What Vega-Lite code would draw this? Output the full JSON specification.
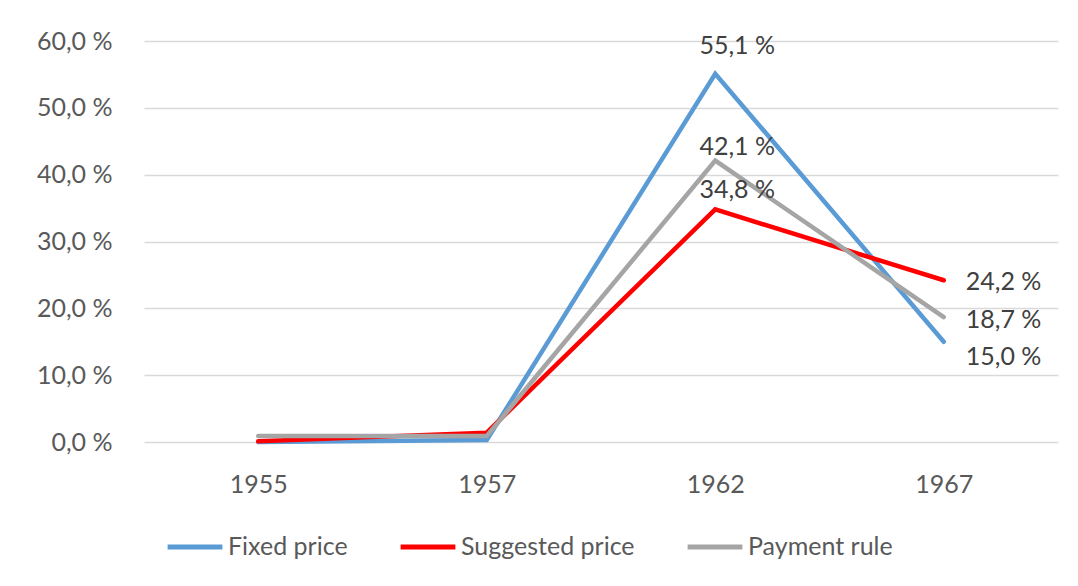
{
  "$schema": "https://vega.github.io/schema/vega-lite/v6.json",
  "autosize": "none",
  "width": 914,
  "height": 401,
  "padding": {"left": 144, "top": 41, "right": 20, "bottom": 144},
  "background": "white",
  "config": {
    "font": "Lato",
    "view": {"stroke": null},
    "locale": {"number": {"decimal": ",", "thousands": " ", "grouping": [3], "currency": ["", ""], "percent": " %"}}
  },
  "data": {
    "values": [
      {"year": "1955", "series": "Fixed price", "value": 0.0},
      {"year": "1957", "series": "Fixed price", "value": 0.003},
      {"year": "1962", "series": "Fixed price", "value": 0.551},
      {"year": "1967", "series": "Fixed price", "value": 0.150},
      {"year": "1955", "series": "Suggested price", "value": 0.001},
      {"year": "1957", "series": "Suggested price", "value": 0.014},
      {"year": "1962", "series": "Suggested price", "value": 0.348},
      {"year": "1967", "series": "Suggested price", "value": 0.242},
      {"year": "1955", "series": "Payment rule", "value": 0.009},
      {"year": "1957", "series": "Payment rule", "value": 0.009},
      {"year": "1962", "series": "Payment rule", "value": 0.421},
      {"year": "1967", "series": "Payment rule", "value": 0.187}
    ]
  },
  "encoding": {
    "x": {
      "field": "year", "type": "ordinal", "title": null,
      "scale": {"type": "point", "padding": 0.5},
      "axis": {"labelAngle": 0, "labelFontSize": 25, "labelColor": "#595959", "domain": false, "ticks": false, "labelPadding": 30, "grid": false}
    },
    "y": {
      "field": "value", "type": "quantitative", "title": null,
      "scale": {"domain": [0, 0.6], "nice": false},
      "axis": {"values": [0, 0.1, 0.2, 0.3, 0.4, 0.5, 0.6], "format": ".1%", "labelFontSize": 25, "labelColor": "#595959", "domain": false, "ticks": false, "labelPadding": 32, "gridColor": "#d9d9d9", "gridWidth": 1.5}
    }
  },
  "layer": [
    {
      "mark": {"type": "line", "strokeWidth": 4.5, "strokeCap": "round", "strokeJoin": "miter"},
      "encoding": {
        "color": {
          "field": "series", "type": "nominal", "title": null,
          "scale": {"domain": ["Fixed price", "Suggested price", "Payment rule"], "range": ["#5b9bd5", "#ff0000", "#a5a5a5"]},
          "legend": {"orient": "none", "legendX": 21, "legendY": 476, "direction": "horizontal", "symbolType": "stroke", "symbolStrokeWidth": 5, "symbolSize": 3000, "labelFontSize": 25, "labelLimit": 400, "labelColor": "#595959", "labelOffset": 3, "columnPadding": 42}
        },
        "order": {"field": "series", "sort": "ascending"}
      }
    },
    {
      "transform": [{"filter": "datum.year == '1962' && datum.series == 'Fixed price'"}],
      "mark": {"type": "text", "fontSize": 25, "color": "#404040", "dx": 22, "dy": -28},
      "encoding": {"text": {"field": "value", "format": ".1%"}}
    },
    {
      "transform": [{"filter": "datum.year == '1962' && datum.series == 'Payment rule'"}],
      "mark": {"type": "text", "fontSize": 25, "color": "#404040", "dx": 22, "dy": -14},
      "encoding": {"text": {"field": "value", "format": ".1%"}}
    },
    {
      "transform": [{"filter": "datum.year == '1962' && datum.series == 'Suggested price'"}],
      "mark": {"type": "text", "fontSize": 25, "color": "#404040", "dx": 22, "dy": -19},
      "encoding": {"text": {"field": "value", "format": ".1%"}}
    },
    {
      "transform": [{"filter": "datum.year == '1967' && datum.series == 'Suggested price'"}],
      "mark": {"type": "text", "fontSize": 25, "color": "#404040", "align": "left", "dx": 22, "dy": 2},
      "encoding": {"text": {"field": "value", "format": ".1%"}}
    },
    {
      "transform": [{"filter": "datum.year == '1967' && datum.series == 'Payment rule'"}],
      "mark": {"type": "text", "fontSize": 25, "color": "#404040", "align": "left", "dx": 22, "dy": 3},
      "encoding": {"text": {"field": "value", "format": ".1%"}}
    },
    {
      "transform": [{"filter": "datum.year == '1967' && datum.series == 'Fixed price'"}],
      "mark": {"type": "text", "fontSize": 25, "color": "#404040", "align": "left", "dx": 22, "dy": 15},
      "encoding": {"text": {"field": "value", "format": ".1%"}}
    }
  ]
}
